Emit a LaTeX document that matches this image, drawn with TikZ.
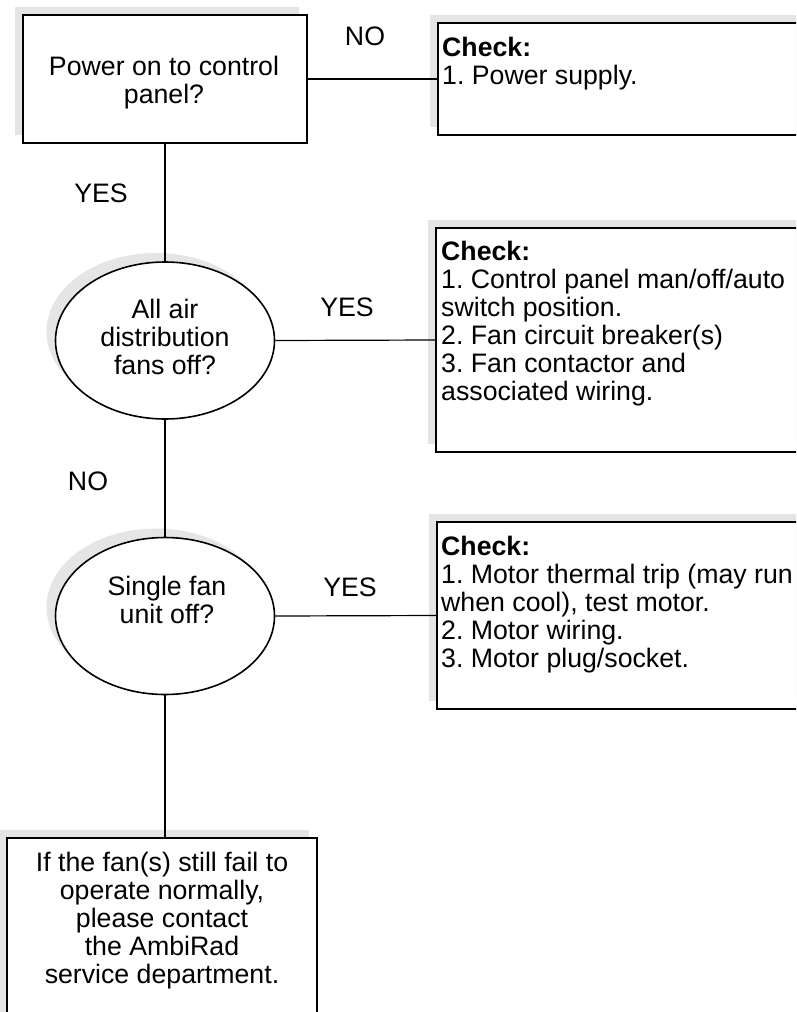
\documentclass[tikz,border=0pt]{standalone}
\usepackage{fontspec}
\setmainfont{Liberation Sans}
\usetikzlibrary{shapes.geometric}
\frenchspacing
\newcommand{\chartfont}{\fontsize{26.7pt}{28pt}\selectfont\frenchspacing}
\tikzset{
  box/.style={draw, line width=1.6pt, fill=white, rectangle, inner sep=0pt},
  oval/.style={draw, line width=1.6pt, fill=white, ellipse, inner sep=0pt},
  shade/.style={fill=gray!20, draw=none},
  conn/.style={line width=1.2pt},
  txt/.style={font=\chartfont, inner sep=0pt},
  lbl/.style={font=\chartfont, inner sep=0pt}
}
\begin{document}
\begin{tikzpicture}[x=1pt,y=-1pt]
\useasboundingbox (0,0) rectangle (796,1012);
\clip (0,0) rectangle (796,1012);
\fill[white] (0,0) rectangle (796,1012);

% shadows
\fill[shade] (15,7) rectangle (299,135);
\fill[shade] (430,15) rectangle (812,127);
\fill[shade] (428,220) rectangle (812,444);
\fill[shade] (429,514) rectangle (812,701);
\fill[shade] (-1,830) rectangle (309,1030);
\fill[shade] (156,331.5) ellipse [x radius=109.5pt, y radius=78.5pt];
\fill[shade] (156,607) ellipse [x radius=109.5pt, y radius=78.5pt];

% boxes and ovals
\node[box, minimum width=284pt, minimum height=128pt] (b1) at (165,79) {};
\node[box, minimum width=382pt, minimum height=112pt] (c1) at (629,79) {};
\node[box, minimum width=384pt, minimum height=224pt] (c2) at (628,340) {};
\node[box, minimum width=383pt, minimum height=187pt] (c3) at (628.5,615.5) {};
\node[box, minimum width=310pt, minimum height=192pt] (b5) at (162,934) {};
\node[oval, minimum width=219pt, minimum height=157pt] (e1) at (165,340.5) {};
\node[oval, minimum width=219pt, minimum height=157pt] (e2) at (165,616) {};

% texts
\node[txt, align=center, anchor=north] (t1) at (164,55.6) {Power on to control\\panel?};
\node[txt, align=left, anchor=north west] (tc1) at (442,36.6) {\textbf{Check:}\\1. Power supply.};
\node[txt, align=left, anchor=north west] (tc2) at (441,240.6) {\textbf{Check:}\\1. Control panel man/off/auto\\switch position.\\2. Fan circuit breaker(s)\\3. Fan contactor and\\associated wiring.};
\node[txt, align=left, anchor=north west] (tc3) at (441,535.6) {\textbf{Check:}\\1. Motor thermal trip (may run\\when cool), test motor.\\2. Motor wiring.\\3. Motor plug/socket.};
\node[txt, align=center, anchor=north] (te1) at (165,298.6) {All air\\distribution\\fans off?};
\node[txt, align=center, anchor=north] (te2) at (167,575.6) {Single fan\\unit off?};
\node[txt, align=center, anchor=north] (t5) at (162,851.6) {If the fan(s) still fail to\\operate normally,\\please contact\\the AmbiRad\\service department.};

% connectors
\draw[conn] (b1.east) -- (c1.west);
\draw[conn] (b1.south) -- (e1.north);
\draw[conn] (e1.east) -- (c2.west);
\draw[conn] (e1.south) -- (e2.north);
\draw[conn] (e2.east) -- (c3.west);
\draw[conn] (e2.south) -- (e2.south |- b5.north);

% labels
\node[lbl] (l1) at (365,36) {NO};
\node[lbl] (l2) at (101,193) {YES};
\node[lbl] (l3) at (347,307) {YES};
\node[lbl] (l4) at (88,481) {NO};
\node[lbl] (l5) at (350,587) {YES};
\end{tikzpicture}
\end{document}
